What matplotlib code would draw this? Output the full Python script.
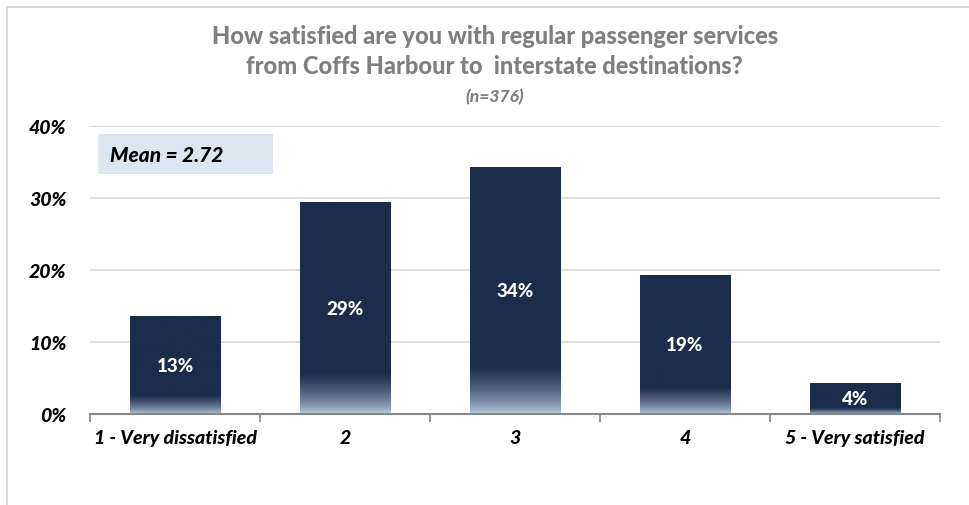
import numpy as np
import matplotlib
matplotlib.use("Agg")
import matplotlib.pyplot as plt
from matplotlib.colors import to_rgb
from matplotlib.lines import Line2D
from matplotlib.patches import Rectangle

categories = ["1 - Very dissatisfied", "2", "3", "4", "5 - Very satisfied"]
values = [13.5, 29.4, 34.2, 19.2, 4.3]
value_labels = ["13%", "29%", "34%", "19%", "4%"]
y_ticks = [0, 10, 20, 30, 40]
y_tick_labels = ["0%", "10%", "20%", "30%", "40%"]
mean_text = "Mean = 2.72"

plt.rcParams["font.family"] = ["Lato", "DejaVu Sans"]

navy = np.array(to_rgb("#1b2d4a"))
light = np.array(to_rgb("#c8d8ee"))

fig = plt.figure(figsize=(9.7, 5.06), dpi=100)
ax = fig.add_axes([90 / 970, 91 / 506, 850 / 970, 288 / 506])

# outer frame (only top and left visible in the reference)
fig.add_artist(Line2D([7 / 970, 7 / 970], [0, 498 / 506], color="#d9d9d9", lw=1.5))
fig.add_artist(Line2D([7 / 970, 1], [498 / 506, 498 / 506], color="#d9d9d9", lw=1.5))

for y in y_ticks[1:]:
    ax.axhline(y, color="#d9d9d9", lw=1.2, zorder=0)

w = 0.535
n = 200
for i, v in enumerate(values):
    ys = np.linspace(0, 1, n)
    t = np.clip(ys / 0.19, 0, 1) ** 0.6
    col = light[None, :] * (1 - t[:, None]) + navy[None, :] * t[:, None]
    img = np.repeat(col[:, None, :], 2, axis=1)
    ax.imshow(img, extent=[i - w / 2, i + w / 2, 0, v], origin="lower",
              aspect="auto", zorder=2, interpolation="bilinear")
    ax.text(i, v / 2, value_labels[i], ha="center", va="center", color="white",
            fontsize=13.5, fontweight="black", zorder=3)

ax.set_xlim(-0.5, 4.5)
ax.set_ylim(0, 40)

# mean box
ax.add_patch(Rectangle((-0.453, 33.3), 1.03, 5.6, facecolor="#dce6f0",
                       edgecolor="none", zorder=1))
ax.text(-0.38, 36.1, mean_text, ha="left", va="center", fontsize=15,
        fontweight="black", fontstyle="italic", color="black", zorder=3)

for s in ["top", "right", "left"]:
    ax.spines[s].set_visible(False)
ax.spines["bottom"].set_color("#868686")
ax.spines["bottom"].set_linewidth(1.5)

ax.set_yticks(y_ticks)
ax.set_yticklabels(y_tick_labels, fontsize=14, fontweight="black", fontstyle="italic")
ax.tick_params(axis="y", length=0, pad=17)

ax.set_xticks(np.arange(-0.5, 5, 1), minor=False)
ax.set_xticklabels([])
ax.tick_params(axis="x", which="major", length=6, color="#868686", width=1.2)
ax.set_xticks(range(len(categories)), minor=True)
ax.set_xticklabels(categories, minor=True, fontsize=14, fontweight="black",
                   fontstyle="italic")
ax.tick_params(axis="x", which="minor", length=0, pad=11)

fig.text(0.51, 1 - 37 / 506, "How satisfied are you with regular passenger services",
         ha="center", va="center", fontsize=17, fontweight="black", color="#7f7f7f")
fig.text(0.51, 1 - 67 / 506, "from Coffs Harbour to  interstate destinations?",
         ha="center", va="center", fontsize=17, fontweight="black", color="#7f7f7f")
fig.text(0.51, 1 - 97 / 506, "(n=376)", ha="center", va="center", fontsize=12.5,
         fontweight="black", fontstyle="italic", color="#7f7f7f")

fig.savefig("out.png", dpi=100)
